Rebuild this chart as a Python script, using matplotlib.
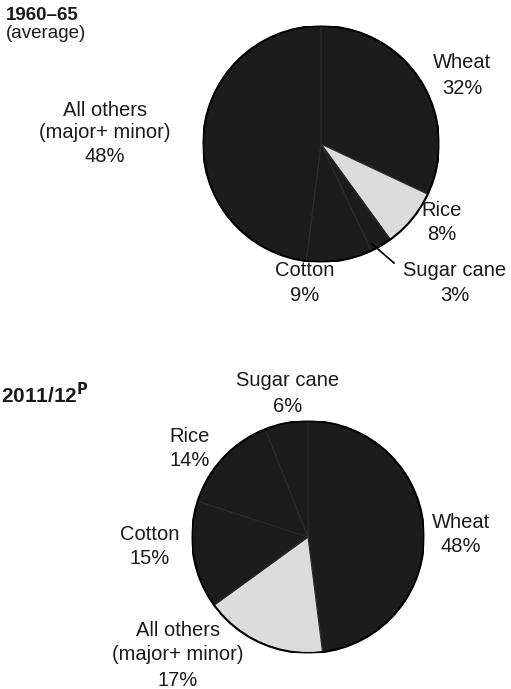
import matplotlib
matplotlib.use('Agg')
import matplotlib.pyplot as plt

plt.rcParams['font.family'] = ['Liberation Sans', 'DejaVu Sans']

W, H = 511, 689

# 1960-65 average shares (clockwise from 12 o'clock)
crops_1960 = ['Wheat', 'Rice', 'Sugar cane', 'Cotton', 'All others']
share_1960 = [32, 8, 3, 9, 48]

# 2011/12 provisional shares (clockwise from 12 o'clock)
crops_2011 = ['Wheat', 'All others', 'Cotton', 'Rice', 'Sugar cane']
share_2011 = [48, 17, 15, 14, 6]

dark = '#1c1c1c'
light = '#dcdcdc'
FS = 14.5


def px_axes(fig, cx, cy, r):
    # axes box around a circle given in pixel coords (top-left origin)
    return fig.add_axes([(cx - r) / W, (H - cy - r) / H, 2 * r / W, 2 * r / H])


def txt(fig, x, y, s, **kw):
    fig.text(x / W, 1 - y / H, s, ha='center', va='center', fontsize=FS, color='#1a1a1a', **kw)


fig = plt.figure(figsize=(W / 100, H / 100), dpi=100)

# top pie
ax1 = px_axes(fig, 321, 144, 118)
cols1 = [light if c == 'Rice' else dark for c in crops_1960]
w1, _ = ax1.pie(share_1960, colors=cols1, startangle=90, counterclock=False,
                wedgeprops=dict(edgecolor='#2c2c2c', linewidth=0.8))
ax1.add_patch(plt.Circle((0, 0), 1, fill=False, ec='black', lw=1.5))
ax1.set_xlim(-1, 1)
ax1.set_ylim(-1, 1)
ax1.axis('off')

# bottom pie
ax2 = px_axes(fig, 308, 537, 116)
cols2 = [light if c == 'All others' else dark for c in crops_2011]
w2, _ = ax2.pie(share_2011, colors=cols2, startangle=90, counterclock=False,
                wedgeprops=dict(edgecolor='#2c2c2c', linewidth=0.8))
ax2.add_patch(plt.Circle((0, 0), 1, fill=False, ec='black', lw=1.5))
ax2.set_xlim(-1, 1)
ax2.set_ylim(-1, 1)
ax2.axis('off')

# leader line for sugar cane (top)
fig.add_artist(plt.Line2D([372 / W, 394 / W], [1 - 244 / H, 1 - 263 / H],
                          color='black', lw=1.2))

# titles
fig.text(6 / W, 1 - 15 / H, '1960–65', ha='left', va='center', fontsize=13.5,
         fontweight='bold', color='#1a1a1a')
fig.text(6 / W, 1 - 34 / H, '(average)', ha='left', va='center', fontsize=13.5, color='#1a1a1a')
fig.text(1 / W, 1 - 395 / H, '2011/12$^{\\mathbf{P}}$', ha='left', va='center', fontsize=15,
         fontweight='bold', color='#1a1a1a')

# top labels
txt(fig, 105, 110, 'All others')
txt(fig, 105, 133, '(major+ minor)')
txt(fig, 105, 157, '48%')
txt(fig, 462, 63, 'Wheat')
txt(fig, 462, 88, '32%')
txt(fig, 442, 210, 'Rice')
txt(fig, 442, 235, '8%')
txt(fig, 455, 271, 'Sugar cane')
txt(fig, 455, 295, '3%')
txt(fig, 305, 270, 'Cotton')
txt(fig, 305, 295, '9%')

# bottom labels
txt(fig, 288, 381, 'Sugar cane')
txt(fig, 288, 406, '6%')
txt(fig, 190, 437, 'Rice')
txt(fig, 190, 461, '14%')
txt(fig, 150, 535, 'Cotton')
txt(fig, 150, 559, '15%')
txt(fig, 461, 522, 'Wheat')
txt(fig, 461, 546, '48%')
txt(fig, 178, 631, 'All others')
txt(fig, 178, 655, '(major+ minor)')
txt(fig, 178, 680, '17%')

fig.savefig('out.png', dpi=100, facecolor='white')
